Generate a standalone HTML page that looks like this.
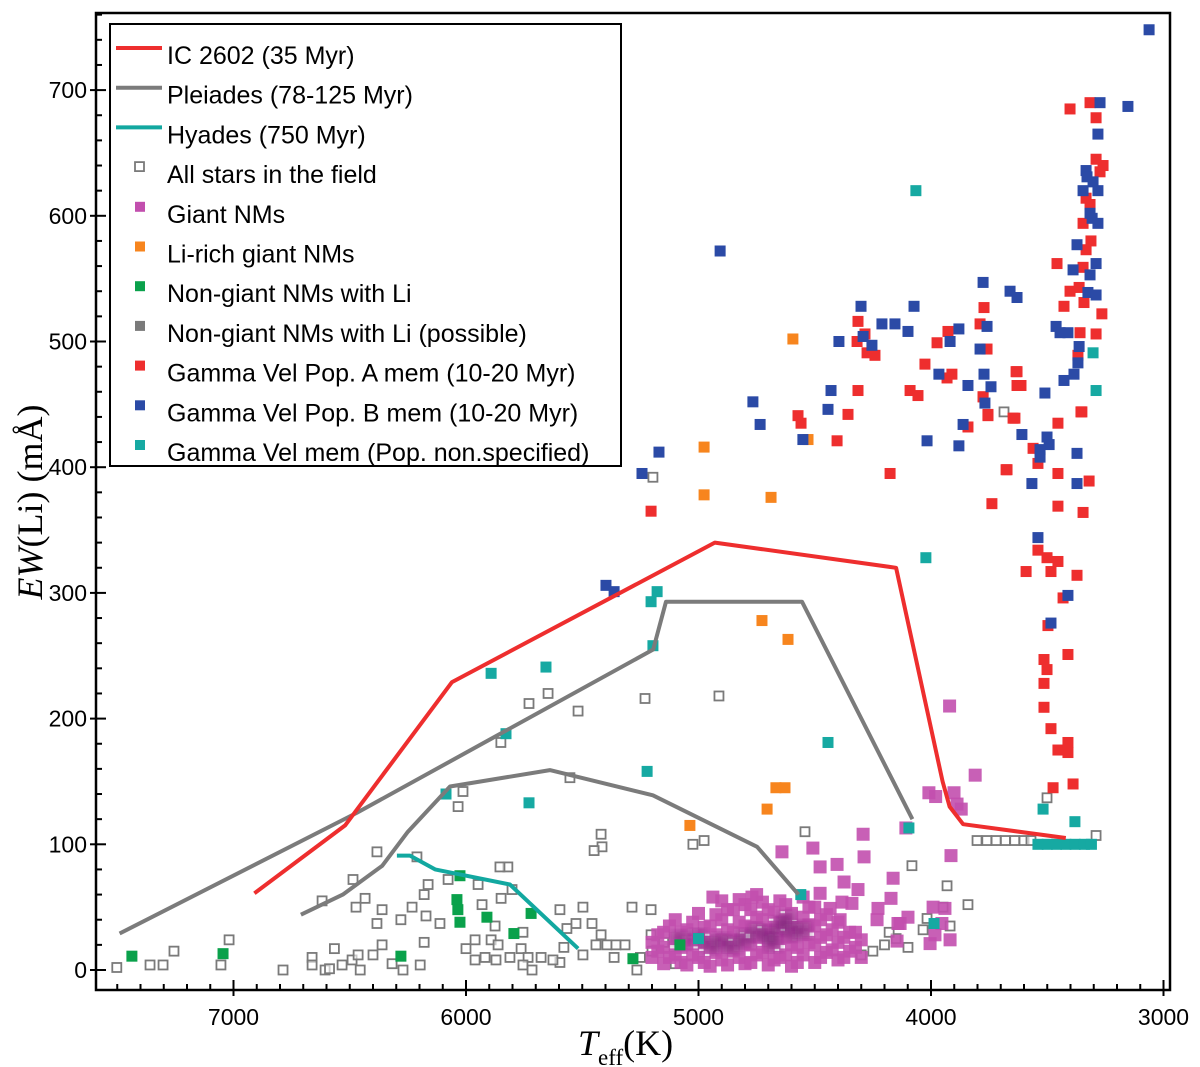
<!DOCTYPE html>
<html><head><meta charset="utf-8">
<style>
html,body{margin:0;padding:0;background:#fff;}
svg{display:block;}
text{font-family:"Liberation Sans",sans-serif;}
</style></head>
<body>
<svg id="chart" width="1200" height="1067" viewBox="0 0 1200 1067" xmlns="http://www.w3.org/2000/svg">
<defs><filter id="blur" x="-20%" y="-20%" width="140%" height="140%"><feGaussianBlur stdDeviation="4"/></filter></defs>
<rect x="0" y="0" width="1200" height="1067" fill="#fff"/>
<g id="grid-ticks"></g>
<g id="points"></g>
<g id="lines"></g>
<rect x="96" y="13" width="1074" height="977" fill="none" stroke="#000" stroke-width="2.5"/>
<g id="legend"></g>
<text transform="translate(42,502) rotate(-90)" text-anchor="middle" font-size="36" style="font-family:'Liberation Serif',serif"><tspan font-style="italic">EW</tspan>(Li) (mÅ)</text>
<text x="578" y="1055" font-size="36" style="font-family:'Liberation Serif',serif"><tspan font-style="italic">T</tspan><tspan font-size="23" dy="10">eff</tspan><tspan dy="-10">(K)</tspan></text>
</svg>
<script>
// ---- data ----
const xTicks = [7000, 6000, 5000, 4000, 3000];
const yTicks = [0, 100, 200, 300, 400, 500, 600, 700];
const ic2602T = [6910, 6520, 6060, 4930, 4150, 3950, 3920, 3862, 3420];
const ic2602EW = [61, 115, 229, 340, 320, 150, 130, 116, 105];
const pleiUpT = [7490, 6470, 5195, 5140, 4555, 4080];
const pleiUpEW = [29, 125, 255, 293, 293, 120];
const pleiLoT = [6710, 6530, 6360, 6250, 6069, 5639, 5196, 4748, 4570];
const pleiLoEW = [44, 60, 83, 110, 146, 159, 139, 98, 60];
const hyadesT = [6297, 6241, 6133, 5811, 5518];
const hyadesEW = [91, 91, 80, 68, 17];

const fieldT = [7502,7359,7303,7256,7019,7054,6787,6662,6662,6606,6587,6566,6533,6490,6464,6455,6400,6361,6383,6361,6473,6434,6619,6486,6383,6318,6271,6197,6180,6280,6232,6172,6180,6163,6112,6077,5948,5931,5849,5802,5820,5875,5961,6000,5961,5918,5871,5892,5862,5811,5763,5733,5755,5716,5677,5755,5596,5566,5527,5497,5458,5579,5596,5626,5497,5441,5419,5394,5355,5316,5286,5204,5419,5363,5265,5204,5647,5729,5518,5230,4912,5850,5553,6013,6034,5415,4976,4542,5196,3686,3501,4082,3931,3841,3918,4017,4034,4099,3948,3802,3760,3720,3680,3640,3600,3570,3290,4200,4250,4150,4300,4180,5250,5150,5100,5200,6211,5449,5024,5854];
const fieldEW = [2,4,4,15,24,4,0,10,4,0,1,17,4,8,12,0,12,20,37,48,50,57,55,72,94,5,0,4,22,40,50,43,60,68,37,72,68,52,57,64,82,35,24,17,8,10,8,24,20,10,17,10,4,0,10,30,48,33,37,50,37,18,6,8,12,20,28,20,20,20,50,48,108,10,0,28,220,212,206,216,218,181,153,142,130,98,103,110,392,444,137,83,67,52,35,41,32,18,50,103,103,103,103,103,103,103,107,20,15,25,12,30,10,22,5,15,90,95,100,82];

const giantT = [4009,3901,3888,4108,4292,4508,4641,4288,3914,4477,4404,4163,4374,4314,4172,4477,4938,4770,4228,4383,4340,4434,3991,3940,4099,4142,3953,3983,4146,3918,4004,4232,4391,4133,3920,3810,3980,3870,
5200,5200,5150,5150,5150,5100,5100,5100,5050,5050,5050,5000,5000,5000,4950,4950,4950,4900,4900,4900,4900,4850,4850,4850,4800,4800,4800,4800,4750,4750,4750,4750,4700,4700,4700,4700,4650,4650,4650,4650,4600,4600,4600,4600,4550,4550,4550,4550,4500,4500,4500,4500,4450,4450,4450,4400,4400,4400,4350,4350,4300,4300,
5175,5175,5125,5125,5075,5075,5075,5025,5025,5025,4975,4975,4975,4925,4925,4925,4875,4875,4875,4875,4825,4825,4825,4825,4775,4775,4775,4775,4725,4725,4725,4725,4675,4675,4675,4675,4625,4625,4625,4625,4575,4575,4575,4525,4525,4525,4475,4475,4475,4425,4425,4375,4375,4325,4325];
const giantEW = [141,141,132,113,108,97,94,90,91,82,84,73,70,64,57,61,58,58,49,54,53,49,50,49,42,37,37,28,23,24,21,40,40,37,210,155,138,128,
10,22,5,18,30,12,25,40,4,20,32,10,28,45,3,18,35,8,24,40,55,15,30,48,5,20,35,52,12,26,42,60,4,18,32,48,10,25,38,55,3,20,30,45,12,28,42,58,6,20,35,50,14,28,44,8,22,38,15,30,10,24,
15,28,10,35,6,18,30,12,24,38,6,22,34,14,28,44,4,18,32,48,10,24,38,56,6,20,34,48,14,28,40,54,8,22,34,46,12,26,40,52,6,18,34,22,36,50,10,26,40,16,32,10,26,18,30];
const coreT = [4650,4600,4700,4800,4900,5000,4750,4550,4850,4620,5080,4950,4680];
const coreEW = [35,30,28,25,22,25,30,32,20,40,24,20,22];

const liRichT = [4594,4976,4529,4976,4688,4727,4615,4667,4628,4705,5037];
const liRichEW = [502,416,422,378,376,278,263,145,145,128,115];
const greenT = [7437,7045,6280,6026,6039,6035,6026,5910,5794,5720,5282,5080];
const greenEW = [11,13,11,75,56,48,38,42,29,45,9,20];

const popAT = [4314,4284,4318,4275,4241,3772,3789,3927,3974,3759,4026,3910,3931,3634,3630,4314,4090,4056,3776,3755,3647,3841,4357,4572,4559,4404,4176,3677,
3402,3316,3290,3290,3260,3273,3333,3316,3346,3312,3333,3458,3346,3363,3402,3428,3342,3265,3359,3290,3368,3630,3613,3355,3776,3755,
3639,3454,3351,3561,3540,3673,3454,3320,3738,3454,3346,3540,3501,3454,3591,3484,3372,3432,3497,3411,3514,3501,3514,3514,3484,3454,3411,3411,3475,3389,5204];
const popAEW = [516,506,500,491,489,527,514,508,499,494,482,474,471,476,465,461,461,457,456,441,439,432,442,441,435,421,395,398,
685,690,678,645,640,635,614,609,594,580,573,562,559,543,540,528,531,522,507,506,489,476,465,444,456,442,
439,435,444,415,403,398,395,389,371,369,364,334,328,325,317,317,314,296,274,251,247,239,228,209,192,175,181,173,145,148,365];

const popBT = [4907,4301,4073,4211,4155,4099,4396,4292,4254,3776,3660,3630,3880,3918,3759,3789,3966,3841,3772,3742,3768,3862,4017,3880,4430,4443,4766,4735,4551,5170,5243,5398,5363,
3062,3273,3153,3282,3333,3329,3303,3346,3282,3316,3307,3282,3372,3389,3290,3316,3325,3290,3462,3445,3411,3363,3368,3385,3428,3510,
3609,3501,3492,3531,3531,3372,3566,3372,3540,3411,3484];
const popBEW = [572,528,528,514,514,508,500,504,497,547,540,535,510,500,512,494,474,465,474,464,451,434,421,417,461,446,452,434,422,412,395,306,301,
748,690,687,665,636,631,627,620,620,602,598,594,577,557,562,553,539,537,512,507,507,496,483,474,469,459,
426,424,418,414,408,411,387,387,344,298,276];

const cyanT = [4065,3303,3290,4022,5892,5656,5178,5204,5196,5828,5221,6086,5729,4443,4095,3518,3381,3987,5000,4560,3540,3500,3460,3420,3380,3340,3310];
const cyanEW = [620,491,461,328,236,241,301,293,258,188,158,140,133,181,113,128,118,37,25,60,100,100,100,100,100,100,100];

// ---- scales ----
const X = t => 931 + (4000 - t) * 0.2325;
const Y = v => 970 - v * 1.257;
const NS = "http://www.w3.org/2000/svg";
function mk(tag, attrs, parent) {
  const e = document.createElementNS(NS, tag);
  for (const k in attrs) e.setAttribute(k, attrs[k]);
  parent.appendChild(e);
  return e;
}

// ---- ticks ----
const tg = document.getElementById('grid-ticks');
for (let t = 3000; t <= 7500; t += 100) {
  const x = X(t);
  if (x < 96 || x > 1170) continue;
  const major = t % 1000 === 0;
  const tk = mk('line', {x1: x, x2: x, y1: 990, y2: major ? 980 : 984, stroke: '#000', 'stroke-width': 2}, tg);
  
  
  if (major) { mk('line', {x1: x, x2: x, y1: 990, y2: 996, stroke: '#000', 'stroke-width': 2}, tg); }
}
xTicks.forEach(t => {
  const tx = mk('text', {x: X(t), y: 1025, 'text-anchor': 'middle', 'font-size': 23}, tg);
  tx.textContent = t;
  
  
});
for (let v = -20; v <= 760; v += 20) {
  const y = Y(v);
  if (y < 13 || y > 990) continue;
  const major = v % 100 === 0;
  const tk = mk('line', {x1: major ? 90 : 96, x2: major ? 106 : 102, y1: y, y2: y, stroke: '#000', 'stroke-width': 2}, tg);
  
  
}
yTicks.forEach(v => {
  const tx = mk('text', {x: 87, y: Y(v) + 8, 'text-anchor': 'end', 'font-size': 23}, tg);
  tx.textContent = v;
  
  
});

// ---- curves ----
const lg = document.getElementById('lines');
function curve(ts, es, color, name) {
  const pts = ts.map((t, i) => X(t).toFixed(1) + ',' + Y(es[i]).toFixed(1)).join(' ');
  const p = mk('polyline', {points: pts, fill: 'none', stroke: color, 'stroke-width': 4, 'stroke-linejoin': 'round'}, lg);
  
  
}

// ---- points ----
const pg = document.getElementById('points');
function sq(ts, es, fill, name, open, opacity, size, filter) {
  ts.forEach((t, i) => {
    const s = size || (open ? 9 : 11);
    const r = mk('rect', {x: X(t) - s / 2, y: Y(es[i]) - s / 2, width: s, height: s}, pg);
    if (open) { r.setAttribute('fill', '#fff'); r.setAttribute('fill-opacity', '0.6'); r.setAttribute('stroke', '#7a7a7a'); r.setAttribute('stroke-width', '1.8'); }
    else { r.setAttribute('fill', fill); if (opacity) r.setAttribute('fill-opacity', opacity); }
    if (filter) r.setAttribute('filter', filter);
    
    
  });
}
sq(fieldT, fieldEW, null, 'field-star', true);
sq(giantT, giantEW, '#c24fae', 'giant-nm', false, 0.9, 13);
sq(coreT, coreEW, '#6a1a6a', 'giant-nm-dense', false, 0.45, 16, 'url(#blur)');
sq(greenT, greenEW, '#0aa14b', 'non-giant-nm-li');
sq(liRichT, liRichEW, '#f7851e', 'li-rich-giant');
sq(popAT, popAEW, '#ee2e2e', 'gamma-vel-pop-a');
sq(popBT, popBEW, '#2b4aa6', 'gamma-vel-pop-b');
sq(cyanT, cyanEW, '#16a9a2', 'gamma-vel-mem');

curve(pleiUpT, pleiUpEW, '#7b7b7b', 'pleiades-upper-curve');
curve(pleiLoT, pleiLoEW, '#7b7b7b', 'pleiades-lower-curve');
curve(hyadesT, hyadesEW, '#12a8a0', 'hyades-curve');
curve(ic2602T, ic2602EW, '#ee2e2e', 'ic2602-curve');

// ---- legend ----
const leg = document.getElementById('legend');
mk('rect', {x: 110, y: 24, width: 511, height: 442, fill: '#fff', stroke: '#000', 'stroke-width': 2}, leg);
const items = [
  ['line', '#ee2e2e', 'IC 2602 (35 Myr)'],
  ['line', '#7b7b7b', 'Pleiades (78-125 Myr)'],
  ['line', '#12a8a0', 'Hyades (750 Myr)'],
  ['open', '#7a7a7a', 'All stars in the field'],
  ['sq', '#c24fae', 'Giant NMs'],
  ['sq', '#f7851e', 'Li-rich giant NMs'],
  ['sq', '#0aa14b', 'Non-giant NMs with Li'],
  ['sq', '#7a7a7a', 'Non-giant NMs with Li (possible)'],
  ['sq', '#ee2e2e', 'Gamma Vel Pop. A mem (10-20 Myr)'],
  ['sq', '#2b4aa6', 'Gamma Vel Pop. B mem (10-20 Myr)'],
  ['sq', '#16a9a2', 'Gamma Vel mem (Pop. non.specified)']
];
items.forEach((it, i) => {
  const cy = 48 + i * 39.7;
  const g = mk('g', {}, leg);
  
  
  if (it[0] === 'line') mk('line', {x1: 116, x2: 162, y1: cy, y2: cy, stroke: it[1], 'stroke-width': 4}, g);
  else if (it[0] === 'open') mk('rect', {x: 135, y: cy - 5, width: 9, height: 9, fill: 'none', stroke: it[1], 'stroke-width': 1.8}, g);
  else mk('rect', {x: 135, y: cy - 5, width: 10, height: 10, fill: it[1]}, g);
  const t = mk('text', {x: 167, y: cy + 16, 'font-size': 25}, g);
  t.textContent = it[2];
});
</script>
</body></html>
